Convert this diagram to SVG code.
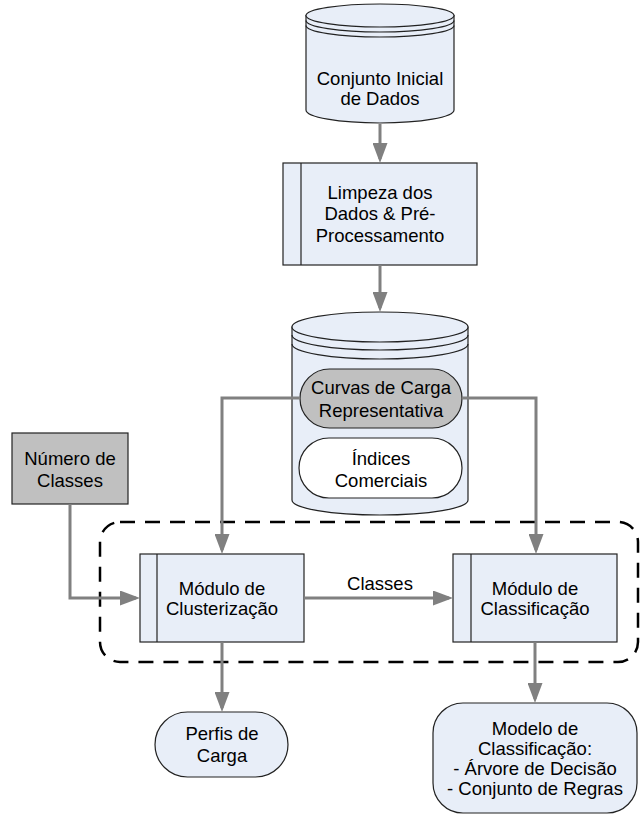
<svg xmlns="http://www.w3.org/2000/svg" width="641" height="816" viewBox="0 0 641 816">
<style>
.sh{fill:#e8eef8;stroke:#222;stroke-width:1.2}
.gr{fill:#c0c0c0;stroke:#222;stroke-width:1.2}
.wh{fill:#fff;stroke:#222;stroke-width:1.2}
.ln{fill:none;stroke:#222;stroke-width:1.2}
.cn{fill:none;stroke:#808080;stroke-width:3}
.dash{fill:none;stroke:#000;stroke-width:2.5;stroke-dasharray:15 10}
text{font-family:"Liberation Sans",Arial,sans-serif;font-size:18.5px;fill:#000;text-anchor:middle;dominant-baseline:central}
</style>
<defs>
<marker id="ah" markerUnits="userSpaceOnUse" markerWidth="20" markerHeight="15" refX="16" refY="7.5" orient="auto">
<path d="M0,0 L20,7.5 L0,15 z" fill="#808080"/>
</marker>
</defs>

<rect id="group-boundary" class="dash" x="100" y="522" width="538" height="140" rx="20"/>

<g id="conjunto-inicial">
<path class="sh" d="M306,15.5 L306,110 A74,13 0 0 0 454,110 L454,15.5 z"/>
<ellipse class="sh" cx="380" cy="15.5" rx="74" ry="11.5"/>
<path class="ln" d="M306,20.5 A74,11.5 0 0 0 454,20.5 M306,25.5 A74,11.5 0 0 0 454,25.5"/>
<text x="380" y="78">Conjunto Inicial</text>
<text x="380" y="98">de Dados</text>
</g>

<g id="limpeza">
<rect class="sh" x="283" y="163" width="194" height="102"/>
<line class="ln" x1="301" y1="163" x2="301" y2="265"/>
<text x="380" y="192">Limpeza dos</text>
<text x="380" y="213">Dados &amp; Pré-</text>
<text x="380" y="235">Processamento</text>
</g>

<g id="base-dados">
<path class="sh" d="M292,327 L292,500 A88,15 0 0 0 468,500 L468,327 z"/>
<ellipse class="sh" cx="380" cy="327" rx="88" ry="15"/>
<path class="ln" d="M292,335 A88,15 0 0 0 468,335 M292,344 A88,15 0 0 0 468,344"/>
</g>

<g id="curvas-carga">
<rect class="gr" x="300" y="369" width="162" height="59" rx="29.5"/>
<text x="381" y="387">Curvas de Carga</text>
<text x="381" y="410">Representativa</text>
</g>

<g id="indices-comerciais">
<rect class="wh" x="299" y="438" width="163" height="60" rx="30"/>
<text x="381" y="458">Índices</text>
<text x="381" y="480">Comerciais</text>
</g>

<g id="numero-classes">
<rect class="gr" x="12" y="433" width="116" height="71"/>
<text x="70" y="458">Número de</text>
<text x="70" y="480">Classes</text>
</g>

<g id="modulo-clusterizacao">
<rect class="sh" x="140" y="554" width="164" height="88"/>
<line class="ln" x1="157" y1="554" x2="157" y2="642"/>
<text x="222" y="588">Módulo de</text>
<text x="222" y="608">Clusterização</text>
</g>

<g id="modulo-classificacao">
<rect class="sh" x="453" y="554" width="164" height="88"/>
<line class="ln" x1="471" y1="554" x2="471" y2="642"/>
<text x="535" y="588">Módulo de</text>
<text x="535" y="608">Classificação</text>
</g>

<g id="perfis-carga">
<rect class="sh" x="155" y="712" width="133" height="65" rx="32.5"/>
<text x="222" y="733">Perfis de</text>
<text x="222" y="755">Carga</text>
</g>

<g id="modelo-classificacao">
<rect class="sh" x="433" y="703" width="204" height="110" rx="30"/>
<text x="535" y="728">Modelo de</text>
<text x="535" y="748">Classificação:</text>
<text x="535" y="768">- Árvore de Decisão</text>
<text x="535" y="788">- Conjunto de Regras</text>
</g>

<g id="connectors">
<path class="cn" d="M380,124 L380,159" marker-end="url(#ah)"/>
<path class="cn" d="M380,265 L380,308" marker-end="url(#ah)"/>
<path class="cn" d="M300,398 L222,398 L222,550" marker-end="url(#ah)"/>
<path class="cn" d="M462,398 L536,398 L536,550" marker-end="url(#ah)"/>
<path class="cn" d="M70,504 L70,598 L136,598" marker-end="url(#ah)"/>
<path class="cn" d="M304,598 L449,598" marker-end="url(#ah)"/>
<path class="cn" d="M222,642 L222,708" marker-end="url(#ah)"/>
<path class="cn" d="M535,642 L535,699" marker-end="url(#ah)"/>
<text x="380" y="583">Classes</text>
</g>
</svg>
